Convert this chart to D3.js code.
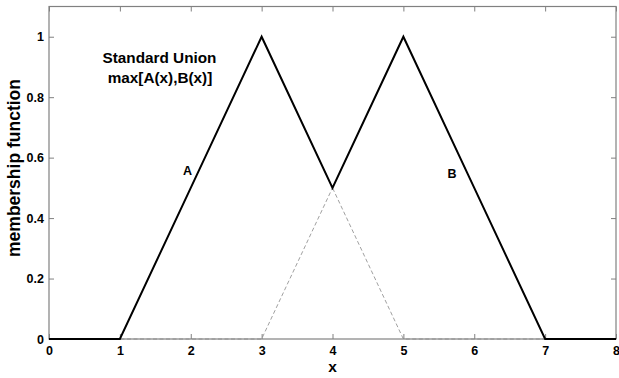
<!DOCTYPE html>
<html>
<head>
<meta charset="utf-8">
<script src="https://cdn.jsdelivr.net/npm/d3@7"></script>
<style>
  html, body { margin: 0; padding: 0; background: #ffffff; }
  svg text { font-family: Arial, "Liberation Sans", sans-serif; font-weight: bold; fill: #000; }
</style>
</head>
<body>
<svg id="chart" width="619" height="378"></svg>
<script>
// Breakpoints of the piecewise-linear membership functions
const xPoints = [0, 1, 2, 3, 4, 5, 6, 7, 8];
const muA     = [0, 0, 0.5, 1, 0.5, 0, 0, 0, 0];
const muB     = [0, 0, 0, 0, 0.5, 1, 0.5, 0, 0];
const muUnion = [0, 0, 0.5, 1, 0.5, 1, 0.5, 0, 0];

const xTicks = [0, 1, 2, 3, 4, 5, 6, 7, 8];
const yTicks = [0, 0.2, 0.4, 0.6, 0.8, 1];

const svg = d3.select("#chart");
const margin = { left: 49, right: 3, top: 6.5, bottom: 39 };
const W = 619, H = 378;

const x = d3.scaleLinear().domain([0, 8]).range([margin.left, W - margin.right]);
const y = d3.scaleLinear().domain([0, 1.1]).range([H - margin.bottom, margin.top]);

const axisColor = "#808080";

// Frame
svg.append("rect")
  .attr("x", x(0)).attr("y", y(1.1))
  .attr("width", x(8) - x(0)).attr("height", y(0) - y(1.1))
  .attr("fill", "#ffffff").attr("stroke", axisColor).attr("stroke-width", 1.2);

const tickLen = 5;
function styleAxis(g) {
  g.select(".domain").remove();
  g.selectAll(".tick line").attr("stroke", axisColor).attr("stroke-width", 1);
  g.selectAll(".tick text").attr("font-size", "12.5px").attr("font-family", "Arial, 'Liberation Sans', sans-serif").attr("font-weight", "bold").attr("fill", "#000");
}

// Bottom axis (ticks pointing inward)
svg.append("g").attr("transform", `translate(0,${y(0)})`)
  .call(d3.axisBottom(x).tickValues(xTicks).tickFormat(d3.format("d")).tickSize(-tickLen).tickPadding(7))
  .call(styleAxis);
// Top axis ticks
svg.append("g").attr("transform", `translate(0,${y(1.1)})`)
  .call(d3.axisTop(x).tickValues(xTicks).tickFormat("").tickSize(-tickLen))
  .call(styleAxis);
// Left axis
svg.append("g").attr("transform", `translate(${x(0)},0)`)
  .call(d3.axisLeft(y).tickValues(yTicks).tickFormat(d => d === 0 || d === 1 ? d3.format("d")(d) : d3.format(".1f")(d)).tickSize(-tickLen).tickPadding(5))
  .call(styleAxis);
// Right axis ticks
svg.append("g").attr("transform", `translate(${x(8)},0)`)
  .call(d3.axisRight(y).tickValues(yTicks).tickFormat("").tickSize(-tickLen))
  .call(styleAxis);

const line = d3.line().x(d => x(d[0])).y(d => y(d[1]));

// Individual fuzzy sets, dashed
[muA, muB].forEach(mu => {
  svg.append("path")
    .datum(xPoints.map((v, i) => [v, mu[i]]))
    .attr("d", line)
    .attr("fill", "none")
    .attr("stroke", "#888888")
    .attr("stroke-width", 0.8)
    .attr("stroke-dasharray", "4,2.5");
});

// Standard union max[A(x),B(x)], solid
svg.append("path")
  .datum(xPoints.map((v, i) => [v, muUnion[i]]))
  .attr("d", line)
  .attr("fill", "none")
  .attr("stroke", "#000")
  .attr("stroke-width", 2)
  .attr("stroke-linejoin", "miter");

// Annotations
svg.append("text").attr("x", 159.5).attr("y", 62.5).attr("text-anchor", "middle")
  .attr("font-size", "15.3px").text("Standard Union");
svg.append("text").attr("x", 160).attr("y", 82.5).attr("text-anchor", "middle")
  .attr("font-size", "15.3px").text("max[A(x),B(x)]");
svg.append("text").attr("x", 187.5).attr("y", 175).attr("text-anchor", "middle")
  .attr("font-size", "12.5px").text("A");
svg.append("text").attr("x", 452).attr("y", 178).attr("text-anchor", "middle")
  .attr("font-size", "12.5px").text("B");

// Axis titles
svg.append("text").attr("x", x(4)).attr("y", 372).attr("text-anchor", "middle")
  .attr("font-size", "15.5px").text("x");
svg.append("text").attr("transform", `translate(19.5,168) rotate(-90)`)
  .attr("text-anchor", "middle").attr("font-size", "17.5px").text("membership function");
</script>
</body>
</html>
